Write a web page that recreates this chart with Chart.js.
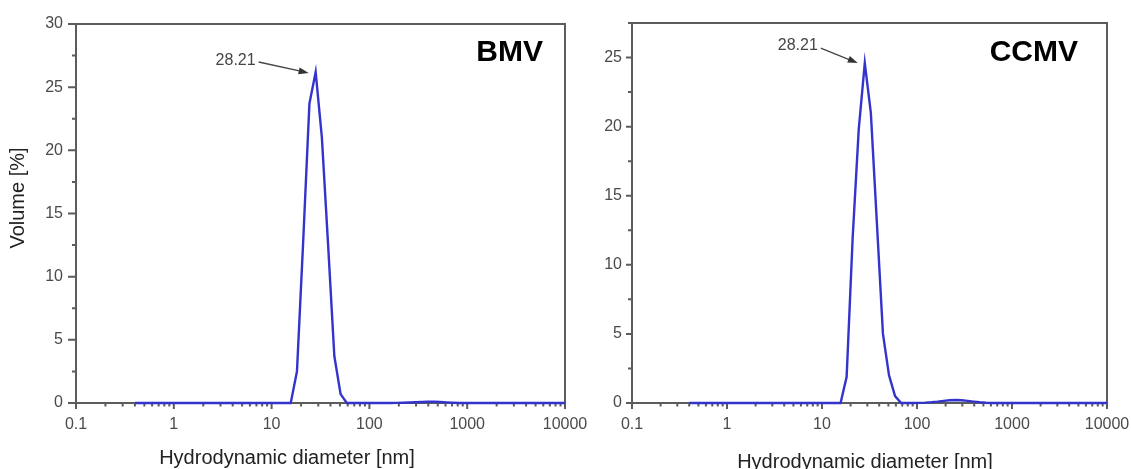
<!DOCTYPE html>
<html lang="en">
<head>
    <meta charset="UTF-8">
    <title>Size distribution by volume - BMV / CCMV</title>
    <script src="https://cdn.jsdelivr.net/npm/chart.js"></script>
    <style>
        body {
            margin: 0;
            background: #fff;
            width: 1131px;
            height: 469px;
            overflow: hidden;
            position: relative;
        }
        canvas {
            position: absolute;
            top: 0;
        }
        #bmvChart { left: 0; }
        #ccmvChart { left: 560px; }
    </style>
</head>
<body>
    <canvas id="bmvChart" width="600" height="469"></canvas>
    <canvas id="ccmvChart" width="585" height="469"></canvas>

    <script>
        // size bins (nm)
        const diameters = [
            0.4, 0.4632, 0.5365, 0.6213, 0.7195, 0.8332, 0.9649, 1.117, 1.294, 1.499,
            1.736, 2.01, 2.328, 2.696, 3.122, 3.615, 4.187, 4.849, 5.615, 6.503,
            7.531, 8.721, 10.1, 11.7, 13.54, 15.69, 18.17, 21.04, 24.36, 28.21,
            32.67, 37.84, 43.82, 50.75, 58.77, 68.06, 78.82, 91.28, 105.7, 122.4,
            141.8, 164.2, 190.1, 220.2, 255.0, 295.3, 342.0, 396.1, 458.7, 531.2,
            615.1, 712.4, 825.0, 955.4, 1106, 1281, 1484, 1718, 1990, 2305,
            2669, 3091, 3580, 4145, 4801, 5560, 6439, 7456, 8635, 10000
        ];

        // volume %
        const bmvVolume = [
            0, 0, 0, 0, 0, 0, 0, 0, 0, 0,
            0, 0, 0, 0, 0, 0, 0, 0, 0, 0,
            0, 0, 0, 0, 0, 0, 2.5, 12.8, 23.7, 26.2,
            21.0, 12.5, 3.7, 0.7, 0, 0, 0, 0, 0, 0,
            0, 0, 0.01, 0.02, 0.04, 0.06, 0.08, 0.1, 0.1, 0.08,
            0.05, 0.02, 0, 0, 0, 0, 0, 0, 0, 0,
            0, 0, 0, 0, 0, 0, 0, 0, 0, 0
        ];

        const ccmvVolume = [
            0, 0, 0, 0, 0, 0, 0, 0, 0, 0,
            0, 0, 0, 0, 0, 0, 0, 0, 0, 0,
            0, 0, 0, 0, 0, 0, 1.9, 12.0, 19.8, 24.6,
            21.0, 13.0, 5.0, 2.0, 0.5, 0, 0, 0, 0.01, 0.03,
            0.06, 0.1, 0.15, 0.2, 0.22, 0.2, 0.15, 0.1, 0.05, 0.02,
            0, 0, 0, 0, 0, 0, 0, 0, 0, 0,
            0, 0, 0, 0, 0, 0, 0, 0, 0, 0
        ];

        const xTickLabels = [0.1, 1, 10, 100, 1000, 10000];
        const bmvYTicks = [0, 5, 10, 15, 20, 25, 30];
        const ccmvYTicks = [0, 5, 10, 15, 20, 25];
        const peakSize = 28.21;

        Chart.defaults.font.family = '"Liberation Sans", Arial, sans-serif';
        Chart.defaults.color = '#4a4a4a';

        const FONT = '"Liberation Sans", Arial, sans-serif';

        // box around the plot + tick marks (major longer than minor)
        const frameTicks = {
            id: 'frameTicks',
            beforeDatasetsDraw(chart, args, o) {
                const { ctx, chartArea: a, scales: { x, y } } = chart;
                ctx.save();
                ctx.strokeStyle = '#5c5c5c';
                ctx.lineWidth = 2;
                ctx.strokeRect(a.left, a.top, a.right - a.left, a.bottom - a.top);
                ctx.beginPath();
                x.ticks.forEach(t => {
                    const px = x.getPixelForValue(t.value);
                    ctx.moveTo(px, a.bottom);
                    ctx.lineTo(px, a.bottom + (t.big ? o.xMajor : o.xMinor));
                });
                y.ticks.forEach(t => {
                    const py = y.getPixelForValue(t.value);
                    ctx.moveTo(a.left, py);
                    ctx.lineTo(a.left - (t.big ? o.yMajor : o.yMinor), py);
                });
                ctx.stroke();
                ctx.restore();
            }
        };

        // peak label with arrow, panel name, axis titles
        const notes = {
            id: 'notes',
            afterDatasetsDraw(chart, args, o) {
                const { ctx, chartArea: a, scales: { x, y } } = chart;
                ctx.save();

                const tipX = x.getPixelForValue(o.peakX) + o.tipDx;
                const tipY = y.getPixelForValue(o.peakY) + o.tipDy;
                const tx = tipX + o.textDx;
                const ty = tipY + o.textDy;
                ctx.font = '16px ' + FONT;
                ctx.fillStyle = '#454545';
                ctx.textAlign = 'right';
                ctx.textBaseline = 'middle';
                ctx.fillText(o.peakText, tx, ty);

                const sx = tx + 3, sy = ty + o.lineDy;
                const ang = Math.atan2(tipY - sy, tipX - sx);
                const c = Math.cos(ang), s = Math.sin(ang);
                ctx.strokeStyle = '#454545';
                ctx.lineWidth = 1.3;
                ctx.beginPath();
                ctx.moveTo(sx, sy);
                ctx.lineTo(tipX - 6 * c, tipY - 6 * s);
                ctx.stroke();
                ctx.beginPath();
                ctx.moveTo(tipX, tipY);
                ctx.lineTo(tipX - 10 * c + 3.5 * s, tipY - 10 * s - 3.5 * c);
                ctx.lineTo(tipX - 10 * c - 3.5 * s, tipY - 10 * s + 3.5 * c);
                ctx.closePath();
                ctx.fillStyle = '#333';
                ctx.fill();

                ctx.font = 'bold 30px ' + FONT;
                ctx.fillStyle = '#000';
                ctx.fillText(o.name, a.right + o.nameDx, a.top + o.nameDy);

                ctx.font = '20px ' + FONT;
                ctx.fillStyle = '#222';
                ctx.textAlign = 'center';
                ctx.fillText(o.xTitle, o.xTitlePos[0], o.xTitlePos[1]);
                if (o.yTitle) {
                    ctx.translate(o.yTitlePos[0], o.yTitlePos[1]);
                    ctx.rotate(-Math.PI / 2);
                    ctx.fillText(o.yTitle, 0, 0);
                }
                ctx.restore();
            }
        };

        function xTickValues() {
            const vals = [];
            for (let d = 0.1; d < 10000; d *= 10) {
                for (let m = 1; m < 10; m++) vals.push(+(d * m).toPrecision(3));
            }
            vals.push(10000);
            return vals;
        }

        function makeChart(id, volume, yMax, yLabels, cfg) {
            const points = diameters.map((d, i) => ({ x: d, y: volume[i] }));
            const peakY = volume[diameters.indexOf(peakSize)];

            return new Chart(document.getElementById(id), {
                type: 'line',
                data: {
                    datasets: [{
                        data: points,
                        borderColor: '#3434cc',
                        borderWidth: 2.4,
                        pointRadius: 0,
                        tension: 0,
                        fill: false,
                        clip: 4
                    }]
                },
                options: {
                    responsive: false,
                    animation: false,
                    events: [],
                    layout: { padding: { top: cfg.top, right: cfg.right, left: 0, bottom: 0 } },
                    plugins: {
                        legend: { display: false },
                        tooltip: { enabled: false },
                        frameTicks: { xMajor: 6, xMinor: 3.5, yMajor: cfg.yMajor, yMinor: 4 },
                        notes: {
                            peakX: peakSize,
                            peakY: peakY,
                            peakText: String(peakSize),
                            tipDx: -7, tipDy: cfg.tipDy,
                            textDx: cfg.textDx, textDy: cfg.textDy, lineDy: cfg.lineDy,
                            name: cfg.name, nameDx: cfg.nameDx, nameDy: cfg.nameDy,
                            xTitle: 'Hydrodynamic diameter [nm]', xTitlePos: cfg.xTitlePos,
                            yTitle: cfg.yTitle, yTitlePos: [18, 198]
                        }
                    },
                    scales: {
                        x: {
                            type: 'logarithmic',
                            min: 0.1,
                            max: 10000,
                            grid: { display: false, drawTicks: false },
                            border: { display: false },
                            afterBuildTicks: scale => {
                                scale.ticks = xTickValues().map(v => ({ value: v, big: xTickLabels.includes(v) }));
                            },
                            afterFit: scale => { scale.height = 469 - cfg.bottom; },
                            ticks: {
                                autoSkip: false,
                                maxRotation: 0,
                                padding: 12,
                                font: { size: 16 },
                                callback: v => xTickLabels.includes(v) ? String(v) : ''
                            }
                        },
                        y: {
                            min: 0,
                            max: yMax,
                            grid: { display: false, drawTicks: false },
                            border: { display: false },
                            afterBuildTicks: scale => {
                                const t = [];
                                for (let v = 0; v <= yMax + 0.001; v += 2.5) {
                                    t.push({ value: v, big: yLabels.includes(v) });
                                }
                                scale.ticks = t;
                            },
                            afterFit: scale => { scale.width = cfg.left; },
                            ticks: {
                                autoSkip: false,
                                padding: cfg.yPad,
                                font: { size: 16 },
                                callback: v => yLabels.includes(v) ? String(v) : ''
                            }
                        }
                    }
                },
                plugins: [frameTicks, notes]
            });
        }

        makeChart('bmvChart', bmvVolume, 30, bmvYTicks, {
            left: 76, right: 35, top: 24, bottom: 403, yMajor: 8, yPad: 13,
            tipDy: 1, textDx: -53, textDy: -12, lineDy: 1,
            name: 'BMV', nameDx: -22, nameDy: 29,
            xTitlePos: [287, 458], yTitle: 'Volume [%]'
        });

        makeChart('ccmvChart', ccmvVolume, 27.5, ccmvYTicks, {
            left: 72, right: 38, top: 23, bottom: 403, yMajor: 6, yPad: 10,
            tipDy: 0, textDx: -40, textDy: -17, lineDy: 2,
            name: 'CCMV', nameDx: -29, nameDy: 30,
            xTitlePos: [305, 462], yTitle: null
        });
    </script>
</body>
</html>
